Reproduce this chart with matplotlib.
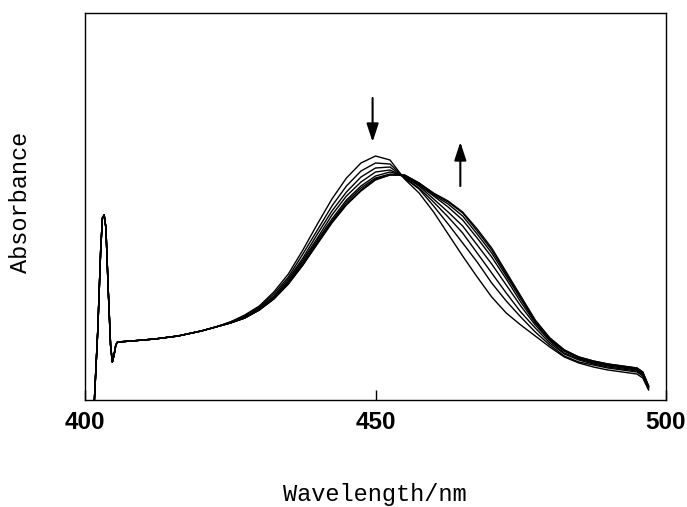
import numpy as np
import matplotlib
matplotlib.use("Agg")
import matplotlib.pyplot as plt

# absorbance in milli-units (arbitrary), wavelength in nm
# part shared by every spectrum (spike + flat baseline)
wl_common = [401.6, 402.2, 402.7, 403.0, 403.3, 403.6, 404.0, 404.4, 404.7,
             405.0, 405.3, 405.6, 408, 412, 416, 420, 422.5]
abs_common = [-2, 70, 150, 182, 185, 172, 110, 55, 38,
              45, 55, 58, 59, 61, 64, 69, 73]

# absorption band, one list per spectrum
wl_band = [425, 427.5, 430, 432.5, 435, 437.5, 440, 442.5, 445, 447.5,
           450, 452.5, 455, 457.5, 460, 462.5, 465, 467.5, 470, 472.5,
           475, 477.5, 480, 482.5, 485, 487.5, 490, 492.5, 495, 496, 497]

spec1 = [78, 85, 94, 108, 126, 150, 176, 201, 222, 237,
         244, 240, 221, 207, 188, 166, 144, 123, 103, 87,
         75, 64, 53, 43, 37, 33, 30, 28, 26, 22, 10]
spec2 = [78, 84, 93, 106, 123, 146, 170, 194, 214, 229,
         237, 236, 222, 211, 194, 176, 157, 138, 117, 99,
         83, 68, 55, 44, 38, 35, 32, 30, 28, 24, 11]
spec3 = [77, 83, 92, 104, 121, 142, 166, 189, 208, 223,
         232, 233, 222, 212, 198, 183, 167, 147, 127, 107,
         88, 72, 57, 46, 40, 36, 33, 31, 29, 25, 12]
spec4 = [77, 83, 91, 103, 119, 140, 162, 185, 204, 218,
         228, 230, 223, 214, 201, 188, 174, 155, 136, 115,
         94, 75, 59, 47, 41, 37, 34, 32, 30, 26, 13]
spec5 = [77, 82, 91, 102, 118, 138, 160, 181, 200, 214,
         224, 228, 224, 215, 204, 193, 180, 162, 143, 121,
         98, 77, 60, 49, 42, 38, 35, 33, 31, 27, 13]
spec6 = [77, 82, 90, 101.5, 117, 136, 158, 179, 198, 212,
         222, 226, 224, 216, 205, 196, 184, 166, 147, 124,
         101, 78, 61, 49, 42, 38, 35, 33, 31, 27, 14]
spec7 = [77, 82, 90, 101, 116, 135, 157, 178, 196, 210,
         221, 225, 225, 217, 206, 198, 187, 169, 150, 126,
         103, 79, 62, 50, 43, 39, 36, 34, 32, 28, 14]
spec8 = [77, 82, 90, 101, 116, 135, 156, 177, 195, 209,
         220, 225, 225, 217, 207, 199, 188, 171, 152, 128,
         104, 80, 62, 50, 43, 39, 36, 34, 32, 28, 14]
spectra = [spec1, spec2, spec3, spec4, spec5, spec6, spec7, spec8]

xticks = [400, 450, 500]

fig = plt.figure(figsize=(6.87, 5.07), dpi=100)
ax = fig.add_axes([85/687, 107/507, 581/687, 387/507])

for s in spectra:
    x = wl_common + wl_band
    y = abs_common + s
    ax.plot(x, y, color="black", lw=1.0, solid_joinstyle="round")

ax.set_xlim(400, 500)
ax.set_ylim(0, 387)
ax.set_xticks(xticks)
ax.set_yticks([])
ax.tick_params(axis="x", direction="in", length=7, width=1, pad=8)
for lab in ax.get_xticklabels():
    lab.set_fontfamily("Liberation Sans")
    lab.set_fontweight("bold")
    lab.set_fontsize(17.5)
for sp in ax.spines.values():
    sp.set_linewidth(1.0)

# arrows showing the direction of change
arr = dict(arrowstyle="-|>,head_length=0.55,head_width=0.18", color="black",
           lw=1.5, mutation_scale=20, shrinkA=0, shrinkB=0)
ax.annotate("", xy=(449.5, 258), xytext=(449.5, 302), arrowprops=arr)
ax.annotate("", xy=(464.6, 258), xytext=(464.6, 214), arrowprops=arr)

fig.text(375/687, 1 - 494/507, "Wavelength/nm", ha="center", va="center",
         fontfamily="Liberation Mono", fontsize=17)
fig.text(21/687, 1 - 202/507, "Absorbance", ha="center", va="center",
         rotation=90, fontfamily="Liberation Mono", fontsize=17)

fig.savefig("out.png", dpi=100)
